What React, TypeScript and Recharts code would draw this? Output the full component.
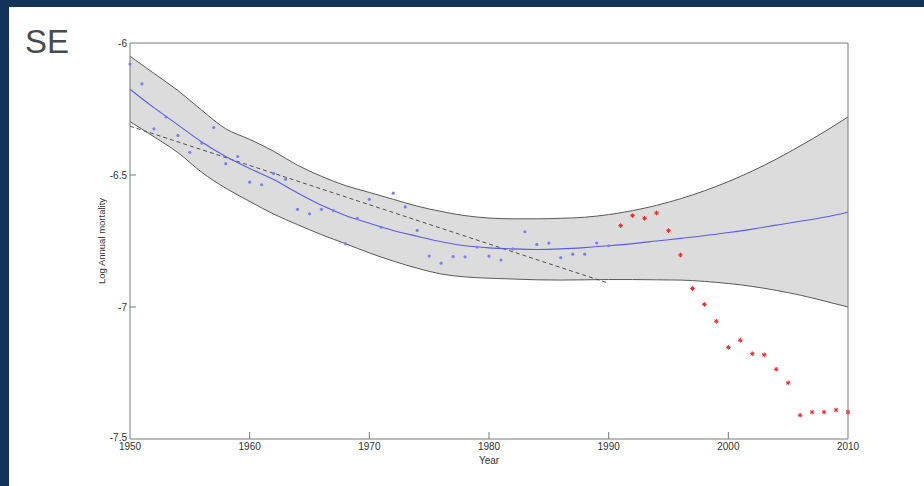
import { ComposedChart, Area, Line, Scatter, XAxis, YAxis } from 'recharts';

// confidence band of the smooth fit
const bandYears = [1950, 1952, 1954, 1956, 1958, 1960, 1962, 1964, 1966, 1968, 1970, 1972, 1974, 1976, 1978, 1980, 1982, 1984, 1986, 1988, 1990, 1992, 1994, 1996, 1998, 2000, 2002, 2004, 2006, 2008, 2010];
const bandUpper = [-6.05, -6.115, -6.18, -6.255, -6.325, -6.365, -6.41, -6.463, -6.505, -6.54, -6.566, -6.592, -6.618, -6.638, -6.654, -6.663, -6.666, -6.666, -6.664, -6.66, -6.65, -6.635, -6.615, -6.59, -6.56, -6.525, -6.485, -6.44, -6.39, -6.337, -6.28];
const bandLower = [-6.298, -6.355, -6.415, -6.49, -6.55, -6.6, -6.648, -6.688, -6.726, -6.76, -6.795, -6.826, -6.853, -6.875, -6.886, -6.891, -6.894, -6.897, -6.898, -6.897, -6.896, -6.896, -6.897, -6.898, -6.903, -6.911, -6.922, -6.937, -6.955, -6.977, -7.0];

// smooth fit
const fitYears = bandYears;
const fitValues = [-6.175, -6.245, -6.31, -6.375, -6.43, -6.475, -6.517, -6.568, -6.615, -6.653, -6.683, -6.71, -6.732, -6.753, -6.768, -6.776, -6.78, -6.782, -6.78, -6.775, -6.768, -6.76, -6.75, -6.74, -6.73, -6.718, -6.705, -6.69, -6.675, -6.66, -6.641];

// linear trend (dashed)
const trendYears = [1950, 1990];
const trendValues = [-6.315, -6.91];

const observedYears = [1950, 1951, 1952, 1953, 1954, 1955, 1956, 1957, 1958, 1959, 1960, 1961, 1962, 1963, 1964, 1965, 1966, 1967, 1968, 1969, 1970, 1971, 1972, 1973, 1974, 1975, 1976, 1977, 1978, 1979, 1980, 1981, 1982, 1983, 1984, 1985, 1986, 1987, 1988, 1989, 1990];
const observedValues = [-6.08, -6.155, -6.325, -6.28, -6.35, -6.414, -6.379, -6.32, -6.457, -6.43, -6.527, -6.537, -6.494, -6.516, -6.63, -6.647, -6.63, -6.635, -6.76, -6.664, -6.592, -6.698, -6.569, -6.621, -6.71, -6.807, -6.834, -6.809, -6.81, -6.773, -6.807, -6.822, -6.78, -6.715, -6.763, -6.758, -6.813, -6.8, -6.8, -6.758, -6.768];

const recentYears = [1991, 1992, 1993, 1994, 1995, 1996, 1997, 1998, 1999, 2000, 2001, 2002, 2003, 2004, 2005, 2006, 2007, 2008, 2009, 2010];
const recentValues = [-6.692, -6.654, -6.664, -6.644, -6.711, -6.803, -6.93, -6.99, -7.054, -7.153, -7.126, -7.177, -7.181, -7.236, -7.287, -7.41, -7.398, -7.398, -7.39, -7.398];

const xTicks = [1950, 1960, 1970, 1980, 1990, 2000, 2010];
const yTicks = [-7.5, -7, -6.5, -6];

const band = bandYears.map((x, i) => ({ x, range: [bandLower[i], bandUpper[i]] }));
const fit = fitYears.map((x, i) => ({ x, y: fitValues[i] }));
const trend = trendYears.map((x, i) => ({ x, y: trendValues[i] }));
const observed = observedYears.map((x, i) => ({ x, y: observedValues[i] }));
const recent = recentYears.map((x, i) => ({ x, y: recentValues[i] }));

const FRAME = '#7a7a7a';
const FONT = '"Liberation Sans", Arial, sans-serif';

function BottomTick({ x, y, payload }: any) {
  const edge = payload.value === 1950 || payload.value === 2010;
  return (
    <g>
      {!edge && <line x1={x} x2={x} y1={y} y2={y - 7} stroke={FRAME} />}
      <text x={x} y={y + 11} textAnchor="middle" fontSize={10} fill="#333" fontFamily={FONT}>
        {payload.value}
      </text>
    </g>
  );
}

function TopTick({ x, y, payload }: any) {
  const edge = payload.value === 1950 || payload.value === 2010;
  return edge ? <g /> : <line x1={x} x2={x} y1={y} y2={y + 7} stroke={FRAME} />;
}

function LeftTick({ x, y, payload }: any) {
  const edge = payload.value === -6 || payload.value === -7.5;
  const lift = payload.value === -7.5 ? -2 : 0;
  return (
    <g>
      {!edge && <line x1={x} x2={x + 6} y1={y} y2={y} stroke={FRAME} />}
      <text x={x - 3} y={y + lift} dy="0.35em" textAnchor="end" fontSize={10} fill="#333" fontFamily={FONT}>
        {payload.value}
      </text>
    </g>
  );
}

function RightTick({ x, y, payload }: any) {
  const edge = payload.value === -6 || payload.value === -7.5;
  return edge ? <g /> : <line x1={x} x2={x - 6} y1={y} y2={y} stroke={FRAME} />;
}

function BlueDot({ cx, cy }: any) {
  return <circle cx={cx} cy={cy} r={1.6} fill="#8080ec" />;
}

function RedStar({ cx, cy }: any) {
  return (
    <g stroke="#e8262a" strokeWidth={1}>
      <line x1={cx - 2.3} x2={cx + 2.3} y1={cy} y2={cy} />
      <line x1={cx} x2={cx} y1={cy - 2.3} y2={cy + 2.3} />
      <line x1={cx - 1.6} x2={cx + 1.6} y1={cy - 1.6} y2={cy + 1.6} />
      <line x1={cx - 1.6} x2={cx + 1.6} y1={cy + 1.6} y2={cy - 1.6} />
    </g>
  );
}

export default function App() {
  return (
    <div style={{ position: 'absolute', left: 0, top: 0, width: 924, height: 486, background: '#14335a', overflow: 'hidden' }}>
      <div style={{ position: 'absolute', left: 9, top: 7, width: 915, height: 479, background: '#fff' }} />
      <div
        style={{
          position: 'absolute', left: 25, top: 25, fontFamily: FONT, fontSize: 33, color: '#474b50', lineHeight: 1,
        }}
      >
        SE
      </div>
      <div style={{ position: 'absolute', left: 0, top: 0 }}>
        <ComposedChart width={924} height={486} margin={{ top: 42, right: 75, bottom: 17, left: 80 }}>
          <XAxis
            xAxisId="b"
            dataKey="x"
            type="number"
            domain={[1950, 2010]}
            ticks={xTicks}
            height={30}
            tickSize={0}
            tickMargin={0}
            tick={<BottomTick />}
            axisLine={{ stroke: FRAME }}
            label={{ value: 'Year', position: 'insideBottom', offset: 5, fontSize: 10, fill: '#333', fontFamily: FONT }}
          />
          <XAxis
            xAxisId="t"
            orientation="top"
            dataKey="x"
            type="number"
            domain={[1950, 2010]}
            ticks={xTicks}
            height={1}
            tickSize={0}
            tickMargin={0}
            tick={<TopTick />}
            axisLine={{ stroke: FRAME }}
          />
          <YAxis
            yAxisId="l"
            type="number"
            domain={[-7.5, -6]}
            ticks={yTicks}
            width={50}
            tickSize={0}
            tickMargin={0}
            tick={<LeftTick />}
            axisLine={{ stroke: FRAME }}
            label={{
              value: 'Log Annual mortality', angle: -90, position: 'insideLeft', offset: 22,
              style: { textAnchor: 'middle' }, fontSize: 9.5, fill: '#333', fontFamily: FONT,
            }}
          />
          <YAxis
            yAxisId="r"
            orientation="right"
            type="number"
            domain={[-7.5, -6]}
            ticks={yTicks}
            width={1}
            tickSize={0}
            tickMargin={0}
            tick={<RightTick />}
            axisLine={{ stroke: FRAME }}
          />
          <Area
            xAxisId="b"
            yAxisId="l"
            data={band}
            dataKey="range"
            type="monotone"
            fill="#dcdcdc"
            fillOpacity={1}
            stroke="#5a5a5a"
            strokeWidth={1}
            isAnimationActive={false}
            activeDot={false}
            dot={false}
          />
          <Line
            xAxisId="b"
            yAxisId="l"
            data={trend}
            dataKey="y"
            type="linear"
            stroke="#505050"
            strokeWidth={1}
            strokeDasharray="4 3"
            dot={false}
            activeDot={false}
            isAnimationActive={false}
          />
          <Line
            xAxisId="b"
            yAxisId="l"
            data={fit}
            dataKey="y"
            type="monotone"
            stroke="#5b5bea"
            strokeWidth={1.1}
            dot={false}
            activeDot={false}
            isAnimationActive={false}
          />
          <Scatter xAxisId="b" yAxisId="l" data={observed} dataKey="y" shape={<BlueDot />} isAnimationActive={false} />
          <Scatter xAxisId="b" yAxisId="l" data={recent} dataKey="y" shape={<RedStar />} isAnimationActive={false} />
        </ComposedChart>
      </div>
    </div>
  );
}
